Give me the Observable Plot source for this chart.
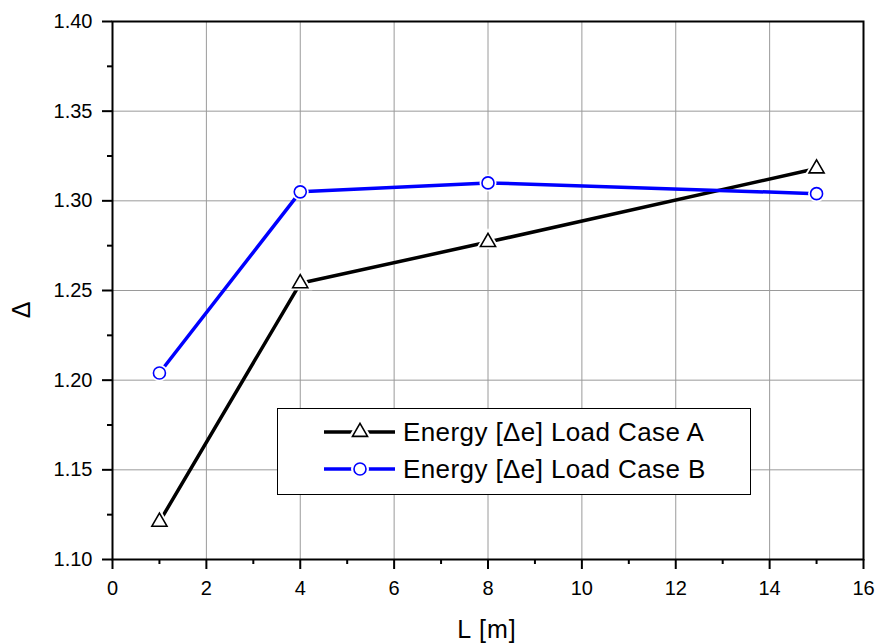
<!DOCTYPE html>
<html><head><meta charset="utf-8">
<script src="https://cdn.jsdelivr.net/npm/d3@7"></script>
<script src="https://cdn.jsdelivr.net/npm/@observablehq/plot@0.6"></script>
<style>
body{margin:0;background:#fff;font-family:Arial,"Liberation Sans",sans-serif}
#wrap{position:relative;width:877px;height:644px}
#wrap svg g[aria-label$="tick label"]{font-size:20px}
#legend{position:absolute;left:277px;top:408px;width:472px;height:85px;border:1.5px solid #000;background:#fff;box-sizing:content-box}
.row{position:absolute;left:0;height:30px;display:flex;align-items:center;white-space:nowrap}
.row span{font-size:26px;color:#000;margin-left:7px;letter-spacing:0.4px}
</style></head><body><div id="wrap"></div>
<script>
const lengths = [1, 4, 8, 15];
const caseA = [1.121, 1.254, 1.277, 1.318];
const caseB = [1.204, 1.305, 1.310, 1.304];
const seriesNames = ["Energy [Δe] Load Case A", "Energy [Δe] Load Case B"];
const seriesColors = ["#000000", "#0000ff"];
const seriesSymbols = ["triangle", "circle"];
const xMajor = [0, 2, 4, 6, 8, 10, 12, 14, 16];
const xMinor = [1, 3, 5, 7, 9, 11, 13, 15];
const yMajor = [1.10, 1.15, 1.20, 1.25, 1.30, 1.35, 1.40];
const yMinor = [1.125, 1.175, 1.225, 1.275, 1.325, 1.375];
const xLabel = "L [m]";
const yLabel = "Δ";

const dataA = lengths.map((x, i) => ({x, y: caseA[i]}));
const dataB = lengths.map((x, i) => ({x, y: caseB[i]}));

const chart = Plot.plot({
  width: 877, height: 644,
  marginLeft: 112, marginRight: 14, marginTop: 21, marginBottom: 85,
  style: {fontFamily: "Arial, 'Liberation Sans', sans-serif", fontSize: "20px", color: "#000", background: "#fff"},
  x: {domain: [0, 16]},
  y: {domain: [1.10, 1.40]},
  marks: [
    Plot.gridX(xMajor, {stroke: "#9a9a9a", strokeOpacity: 1, strokeWidth: 1}),
    Plot.gridY(yMajor, {stroke: "#9a9a9a", strokeOpacity: 1, strokeWidth: 1}),
    Plot.line(dataA, {x: "x", y: "y", stroke: seriesColors[0], strokeWidth: 3.5}),
    Plot.line(dataB, {x: "x", y: "y", stroke: seriesColors[1], strokeWidth: 3.5}),
    Plot.dot(dataA, {x: "x", y: "y", symbol: seriesSymbols[0], r: 9, fill: "#fff", stroke: "none"}),
    Plot.dot(dataB, {x: "x", y: "y", symbol: seriesSymbols[1], r: 8.5, fill: "#fff", stroke: "none"}),
    Plot.dot(dataA, {x: "x", y: "y", symbol: seriesSymbols[0], r: 5.6, fill: "#fff", stroke: seriesColors[0], strokeWidth: 1.6}),
    Plot.dot(dataB, {x: "x", y: "y", symbol: seriesSymbols[1], r: 6, fill: "#fff", stroke: seriesColors[1], strokeWidth: 1.6}),
    Plot.frame({stroke: "#000", strokeWidth: 2}),
    Plot.axisX(xMajor, {tickSize: 10, tickPadding: 11, strokeWidth: 2, label: null}),
    Plot.axisX(xMinor, {tickSize: 5, strokeWidth: 2, tickFormat: () => "", label: null}),
    Plot.axisY(yMajor, {tickSize: 10, tickPadding: 10, strokeWidth: 2, tickFormat: d3.format(".2f"), label: null}),
    Plot.axisY(yMinor, {tickSize: 5, strokeWidth: 2, tickFormat: () => "", label: null})
  ]
});

const wrap = document.getElementById("wrap");
wrap.appendChild(chart);

const svg = d3.select(chart);
svg.selectAll('g[aria-label$="tick label"] text').attr("font-size", 20);
svg.append("text").attr("x", 487).attr("y", 638).attr("text-anchor", "middle")
  .attr("font-size", 25).attr("letter-spacing", 1).attr("fill", "#000").text(xLabel);
svg.append("text").attr("transform", "translate(30,310) rotate(-90)").attr("text-anchor", "middle")
  .attr("font-size", 25).attr("fill", "#000").text(yLabel);

const legend = document.createElement("div");
legend.id = "legend";
const rowTops = [8, 45];
seriesNames.forEach((name, i) => {
  const row = document.createElement("div");
  row.className = "row";
  row.style.top = rowTops[i] + "px";
  const s = d3.create("svg").attr("width", 118).attr("height", 30);
  s.append("line").attr("x1", 46).attr("x2", 117).attr("y1", 15).attr("y2", 15)
    .attr("stroke", seriesColors[i]).attr("stroke-width", 3.5);
  const sym = d3.symbol(i === 0 ? d3.symbolTriangle : d3.symbolCircle, i === 0 ? 98 : 113)();
  s.append("path").attr("d", sym).attr("transform", "translate(82,15)")
    .attr("fill", "#fff").attr("stroke", "#fff").attr("stroke-width", 6);
  s.append("path").attr("d", sym).attr("transform", "translate(82,15)")
    .attr("fill", "#fff").attr("stroke", seriesColors[i]).attr("stroke-width", 1.6);
  row.appendChild(s.node());
  const t = document.createElement("span");
  t.textContent = name;
  row.appendChild(t);
  legend.appendChild(row);
});
wrap.appendChild(legend);
</script>
</body></html>
